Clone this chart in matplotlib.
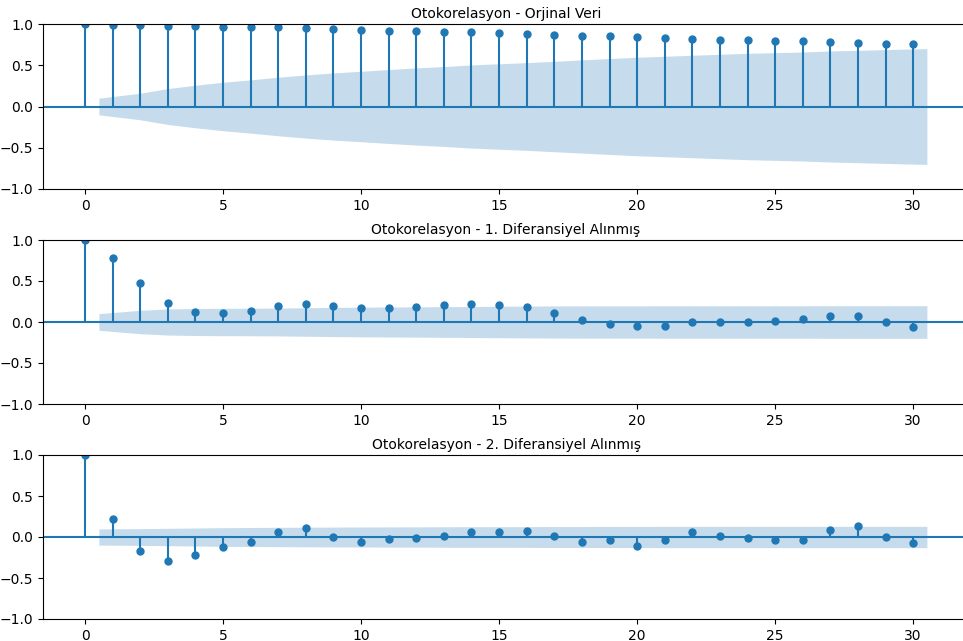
import numpy as np
import matplotlib
matplotlib.use("Agg")
import matplotlib.pyplot as plt

lags = np.arange(31)

titles = [
    "Otokorelasyon - Orjinal Veri",
    "Otokorelasyon - 1. Diferansiyel Alınmış",
    "Otokorelasyon - 2. Diferansiyel Alınmış",
]

acf_orig = [1.0, 0.984, 0.984, 0.976, 0.976, 0.968, 0.96, 0.96, 0.948, 0.94,
            0.927, 0.919, 0.919, 0.907, 0.899, 0.887, 0.879, 0.867, 0.859, 0.851,
            0.843, 0.831, 0.819, 0.806, 0.806, 0.798, 0.79, 0.778, 0.77, 0.762,
            0.758]
acf_diff1 = [1.0, 0.784, 0.48, 0.237, 0.127, 0.106, 0.135, 0.196, 0.216, 0.196,
             0.176, 0.176, 0.188, 0.208, 0.216, 0.208, 0.18, 0.106, 0.024, -0.024,
             -0.053, -0.045, -0.004, 0.004, 0.004, 0.016, 0.037, 0.069, 0.069, -0.004,
             -0.065]
acf_diff2 = [1.0, 0.215, -0.175, -0.297, -0.215, -0.126, -0.057, 0.065, 0.106, -0.004,
             -0.065, -0.028, -0.016, 0.008, 0.057, 0.061, 0.069, 0.008, -0.061, -0.033,
             -0.114, -0.041, 0.061, 0.008, -0.012, -0.033, -0.041, 0.089, 0.138, -0.004,
             -0.073]

# half width of the confidence band, lags 1..30
band_orig = [0.101, 0.161, 0.218, 0.258, 0.294, 0.323, 0.355, 0.383, 0.407, 0.427,
             0.448, 0.468, 0.484, 0.504, 0.518, 0.532, 0.548, 0.565, 0.581, 0.597,
             0.609, 0.621, 0.633, 0.645, 0.653, 0.661, 0.673, 0.681, 0.69, 0.702]
band_diff1 = [0.102, 0.143, 0.159, 0.165, 0.167, 0.168, 0.17, 0.174, 0.178, 0.181,
              0.183, 0.185, 0.187, 0.189, 0.192, 0.194, 0.196, 0.197, 0.197, 0.197,
              0.198, 0.198, 0.198, 0.198, 0.198, 0.198, 0.199, 0.199, 0.199, 0.199]
band_diff2 = [0.099, 0.102, 0.106, 0.11, 0.114, 0.116, 0.118, 0.12, 0.121, 0.122,
              0.123, 0.124, 0.125, 0.126, 0.126, 0.127, 0.128, 0.128, 0.129, 0.129,
              0.13, 0.13, 0.13, 0.13, 0.13, 0.13, 0.13, 0.13, 0.13, 0.13]

series = [acf_orig, acf_diff1, acf_diff2]
bands = [band_orig, band_diff1, band_diff2]

W, H = 963, 641
fig = plt.figure(figsize=(W / 100, H / 100), dpi=100)

# pixel boxes (top, bottom) of the three panels
boxes = [(24, 189), (240, 404), (455, 619)]
left_px, right_px = 43, 969

for (top, bot), title, acf, band in zip(boxes, titles, series, bands):
    ax = fig.add_axes([left_px / W, (H - bot) / H,
                       (right_px - left_px) / W, (bot - top) / H])
    acf = np.array(acf)
    band = np.array(band)
    ax.vlines(lags, [0], acf, color="C0")
    ax.axhline(0, color="C0")
    ax.plot(lags, acf, marker="o", markersize=5, linestyle="None", color="C0")
    bx = lags[1:].astype(float)
    bx[0] -= 0.5
    bx[-1] += 0.5
    ax.fill_between(bx, -band, band, alpha=0.25, color="C0", linewidth=0)
    ax.set_xlim(-1.525, 32.025)
    ax.set_ylim(-1, 1)
    ax.set_yticks([-1.0, -0.5, 0.0, 0.5, 1.0])
    ax.set_xticks([0, 5, 10, 15, 20, 25, 30])
    ax.set_title(title, fontsize=10, pad=4)

fig.savefig("out.png", dpi=100)
